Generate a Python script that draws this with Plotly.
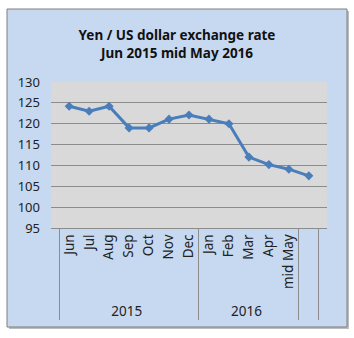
import plotly.graph_objects as go

months = ["Jun", "Jul", "Aug", "Sep", "Oct", "Nov", "Dec", "Jan", "Feb", "Mar", "Apr", "mid May", " "]
years = ["2015"] * 7 + ["2016"] * 5 + ["  "]
rate = [124.2, 123.0, 124.2, 119.0, 119.0, 121.1, 122.1, 121.1, 120.0, 112.0, 110.2, 109.1, 107.5]
yticks = [95, 100, 105, 110, 115, 120, 125, 130]

W, H = 354, 338
L, R, T, B = 51, 327, 82, 228
pw, ph = R - L, B - T

def px(x):
    return (x - L) / pw

def py(y):
    return (B - y) / ph

FONT = "Noto Sans"

fig = go.Figure()
fig.add_trace(go.Scatter(
    x=[years, months], y=rate, mode="lines+markers",
    line=dict(color="#4A7EBB", width=3),
    marker=dict(symbol="diamond", size=7, color="#4A7EBB"),
    showlegend=False, hoverinfo="skip",
))

fig.update_layout(
    width=W, height=H,
    margin=dict(l=L, r=W - R, t=T, b=H - B, pad=0),
    paper_bgcolor="white",
    plot_bgcolor="rgba(0,0,0,0)",
    title=dict(
        text="Yen / US dollar exchange rate<br>Jun 2015 mid May 2016",
        x=0.5, xanchor="center", y=1 - 40 / H, yanchor="middle",
        font=dict(family=FONT, size=13.5, color="#111111", weight="bold"),
    ),
    font=dict(family=FONT, size=12, color="#222222"),
    shapes=[
        dict(type="rect", xref="paper", yref="paper", layer="below",
             x0=px(9), x1=px(349), y0=py(329), y1=py(11),
             line=dict(width=0), fillcolor="#bdbdbd"),
        dict(type="rect", xref="paper", yref="paper", layer="below",
             x0=px(7), x1=px(347), y0=py(327), y1=py(9),
             line=dict(color="#7f7f7f", width=1), fillcolor="#C6D9F1"),
        dict(type="rect", xref="paper", yref="paper", layer="below",
             x0=0, x1=1, y0=0, y1=1,
             line=dict(width=0), fillcolor="#D9D9D9"),
    ],
)

fig.update_xaxes(
    type="multicategory", tickangle=-90,
    showgrid=False, showline=True, linecolor="#8C8C8C", linewidth=1,
    ticks="", showdividers=True, dividercolor="#8C8C8C", dividerwidth=1,
    tickfont=dict(family=FONT, size=13.5, color="#222222"),
)
fig.update_yaxes(
    range=[95, 130], tickvals=yticks, showgrid=True, gridcolor="#8C8C8C",
    gridwidth=1, zeroline=False, showline=False, ticks="",
    ticklabelstandoff=10,
    tickfont=dict(family=FONT, size=13, color="#222222"),
)

fig.write_html("out.html")
